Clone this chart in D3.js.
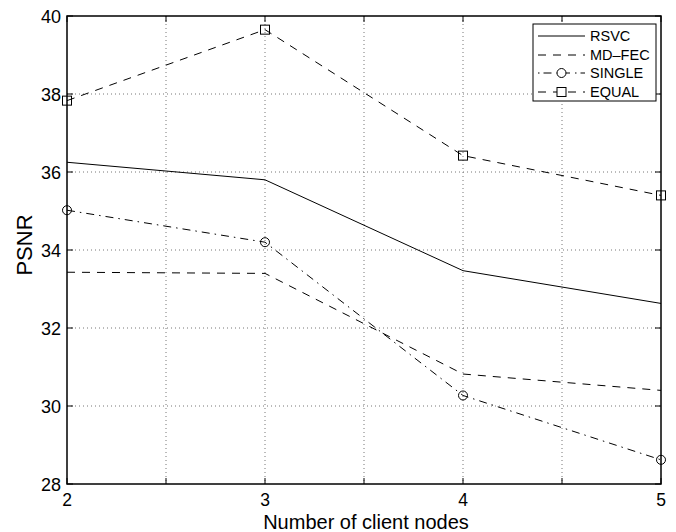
<!DOCTYPE html>
<html><head><meta charset="utf-8">
<script src="https://cdn.jsdelivr.net/npm/d3@7"></script>
<style>body{margin:0;background:#fff}svg{display:block}text{font-family:"Liberation Sans",Arial,Helvetica,sans-serif}</style>
</head><body>
<svg id="c" width="676" height="532"></svg>
<script>
const nodes = [2, 3, 4, 5];
const rsvc = [36.25, 35.8, 33.47, 32.63];
const mdfec = [33.43, 33.4, 30.82, 30.4];
const single = [35.02, 34.2, 30.27, 28.62];
const equal = [37.83, 39.65, 36.42, 35.4];
const xTicks = [2, 3, 4, 5];
const xGrid = [2.5, 3, 3.5, 4, 4.5];
const yTicks = [28, 30, 32, 34, 36, 38, 40];
const seriesNames = ["RSVC", "MD\u2013FEC", "SINGLE", "EQUAL"];

const svg = d3.select("#c");
const L = 67, R = 661, T = 16, B = 484;
const x = d3.scaleLinear().domain([2, 5]).range([L, R]);
const y = d3.scaleLinear().domain([28, 40]).range([B, T]);

// grid
const g = svg.append("g");
g.selectAll(".vg").data(xGrid).enter().append("line")
  .attr("x1", d => x(d)).attr("x2", d => x(d)).attr("y1", T).attr("y2", B)
  .attr("stroke", "#777").attr("stroke-width", 1).attr("stroke-dasharray", "1,3");
g.selectAll(".hg").data(yTicks.slice(1, -1)).enter().append("line")
  .attr("y1", d => y(d)).attr("y2", d => y(d)).attr("x1", L).attr("x2", R)
  .attr("stroke", "#777").attr("stroke-width", 1).attr("stroke-dasharray", "1,3");

// ticks (inward, all four sides)
const tk = 6;
const allX = [2, 2.5, 3, 3.5, 4, 4.5, 5];
allX.forEach(v => {
  svg.append("line").attr("x1", x(v)).attr("x2", x(v)).attr("y1", B).attr("y2", B - tk).attr("stroke", "#000");
  svg.append("line").attr("x1", x(v)).attr("x2", x(v)).attr("y1", T).attr("y2", T + tk).attr("stroke", "#000");
});
yTicks.forEach(v => {
  svg.append("line").attr("y1", y(v)).attr("y2", y(v)).attr("x1", L).attr("x2", L + tk).attr("stroke", "#000");
  svg.append("line").attr("y1", y(v)).attr("y2", y(v)).attr("x1", R).attr("x2", R - tk).attr("stroke", "#000");
});

// frame
svg.append("rect").attr("x", L).attr("y", T).attr("width", R - L).attr("height", B - T)
  .attr("fill", "none").attr("stroke", "#000").attr("stroke-width", 1.5);

// tick labels
svg.selectAll(".xl").data(xTicks).enter().append("text")
  .attr("x", d => x(d)).attr("y", B + 22).attr("text-anchor", "middle")
  .attr("font-size", 17.5).text(d => d);
svg.selectAll(".yl").data(yTicks).enter().append("text")
  .attr("x", L - 6).attr("y", d => y(d) + 7).attr("text-anchor", "end")
  .attr("font-size", 18).text(d => d);

// axis titles
svg.append("text").attr("x", 366).attr("y", 529).attr("text-anchor", "middle")
  .attr("font-size", 20).text("Number of client nodes");
svg.append("text").attr("transform", `translate(32,245) rotate(-90)`)
  .attr("text-anchor", "middle").attr("font-size", 22).text("PSNR");

const line = d3.line().x((d, i) => x(nodes[i])).y(d => y(d));
const styles = [
  { data: rsvc, dash: null, marker: null },
  { data: mdfec, dash: "8,7", marker: null },
  { data: single, dash: "8,5,1.5,5", marker: "circle" },
  { data: equal, dash: "8,7", marker: "square" }
];
styles.forEach(s => {
  const p = svg.append("path").attr("d", line(s.data)).attr("fill", "none")
    .attr("stroke", "#000").attr("stroke-width", 1);
  if (s.dash) p.attr("stroke-dasharray", s.dash);
  s.data.forEach((v, i) => {
    if (s.marker === "circle")
      svg.append("circle").attr("cx", x(nodes[i])).attr("cy", y(v)).attr("r", 4.5)
        .attr("fill", "none").attr("stroke", "#000");
    if (s.marker === "square")
      svg.append("rect").attr("x", x(nodes[i]) - 4.5).attr("y", y(v) - 4.5).attr("width", 9).attr("height", 9)
        .attr("fill", "none").attr("stroke", "#000");
  });
});

// legend
const lg = svg.append("g");
lg.append("rect").attr("x", 533).attr("y", 24).attr("width", 123).attr("height", 77)
  .attr("fill", "#fff").attr("stroke", "#000").attr("stroke-width", 1);
const rowY = [36, 55, 73, 92];
styles.forEach((s, i) => {
  const ly = rowY[i];
  const l = lg.append("line").attr("x1", 538).attr("x2", 585).attr("y1", ly).attr("y2", ly)
    .attr("stroke", "#000").attr("stroke-width", 1);
  if (s.dash) l.attr("stroke-dasharray", i === 2 ? "1.5,4,8,5" : "8,7");
  if (s.marker === "circle")
    lg.append("circle").attr("cx", 561.5).attr("cy", ly).attr("r", 4.5).attr("fill", "#fff").attr("stroke", "#000");
  if (s.marker === "square")
    lg.append("rect").attr("x", 557).attr("y", ly - 4.5).attr("width", 9).attr("height", 9).attr("fill", "#fff").attr("stroke", "#000");
  lg.append("text").attr("x", 590).attr("y", ly + 5).attr("font-size", 14.5).text(seriesNames[i]);
});
</script>
</body></html>
